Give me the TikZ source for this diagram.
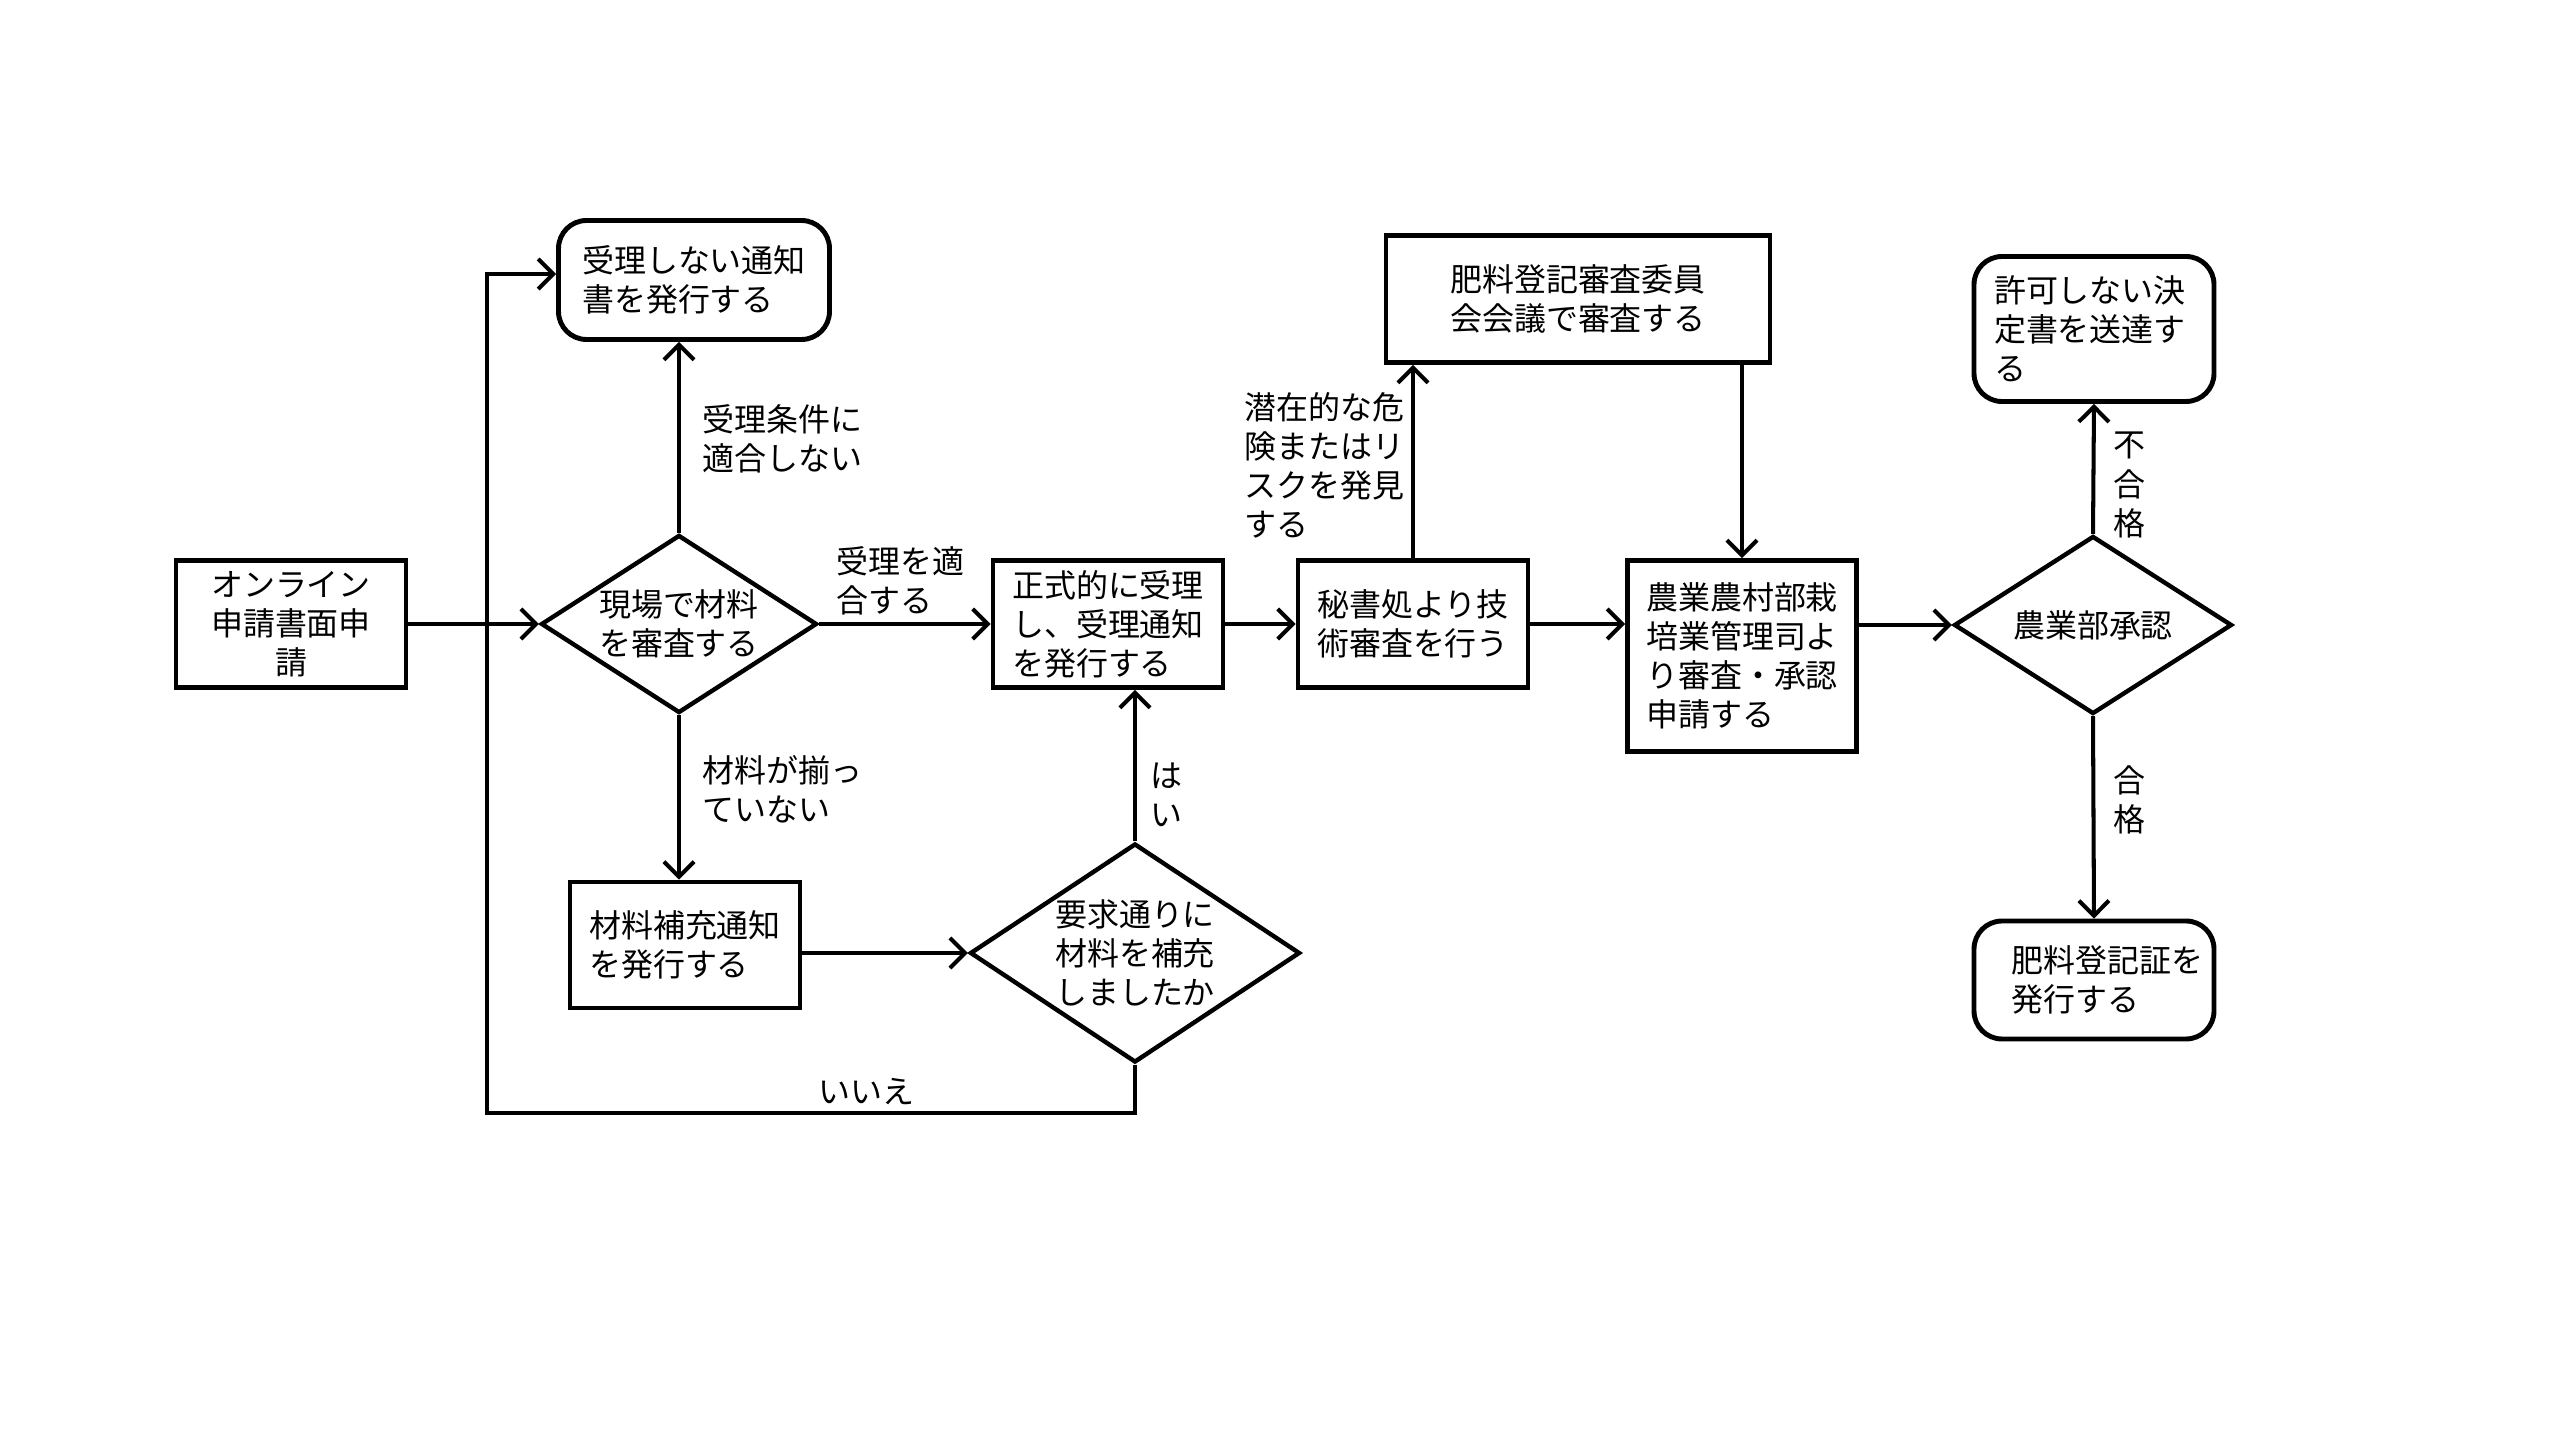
\documentclass[tikz,border=0pt]{standalone}
\usepackage{fontspec}
\newfontfamily\jpfont{Noto Sans CJK JP}
\usetikzlibrary{shapes.geometric,arrows.meta}
\tikzset{box/.style={draw, rectangle, line width=1.4pt, inner sep=0pt, align=left}}
\tikzset{roundbox/.style={box, rounded corners=0.28cm}}
\tikzset{decision/.style={draw, shape=diamond, line width=1.25pt, inner sep=0pt, align=center}}
\tikzset{flow/.style={line width=1.15pt, -{Straight Barb[length=1.5mm,width=3mm]}}}
\tikzset{lbl/.style={inner sep=0pt, align=left}}

\begin{document}
\begin{tikzpicture}
	% Default font for each node
	\tikzstyle{every node}=[font=\jpfont\fontsize{9.1}{11.1}\selectfont];
	\useasboundingbox (0,0) rectangle (25.6,14.4);

	% Left part
	\node[box, align=center, minimum width=2.30cm, minimum height=1.27cm] (apply) at (2.91,8.16) {オンライン\\申請書面申\\請};
	\node[decision, minimum width=2.76cm, minimum height=1.78cm, aspect=1.55] (check) at (6.79,8.16) {現場で材料\\を審査する};
	\node[roundbox, minimum width=2.71cm, minimum height=1.19cm] (reject) at (6.94,11.60) {受理しない通知\\書を発行する};
	\node[box, minimum width=2.30cm, minimum height=1.26cm] (supply) at (6.85,4.95) {材料補充通知\\を発行する};
	\node[decision, minimum width=3.30cm, minimum height=2.19cm, aspect=1.51] (recheck) at (11.35,4.87) {要求通りに\\材料を補充\\しましたか};
	\coordinate (loop sw) at (4.87,3.27);

	% Middle part
	\node[box, minimum width=2.30cm, minimum height=1.27cm] (accept) at (11.08,8.16) {正式的に受理\\し、受理通知\\を発行する};
	\node[box, minimum width=2.30cm, minimum height=1.27cm] (tech) at (14.13,8.16) {秘書処より技\\術審査を行う};
	\node[box, minimum width=3.84cm, minimum height=1.27cm] (committee) at (15.78,11.41) {肥料登記審査委員\\会会議で審査する};
	\node[box, minimum width=2.29cm, minimum height=1.91cm] (ministry) at (17.42,7.84) {農業農村部栽\\培業管理司よ\\り審査・承認\\申請する};

	% Right part
	\node[decision, minimum width=2.78cm, minimum height=1.78cm, aspect=1.56] (approve) at (20.93,8.15) {農業部承認};
	\node[roundbox, minimum width=2.40cm, minimum height=1.45cm, text width=2.0cm] (deny) at (20.94,11.11) {許可しない決\\定書を送達す\\る};
	\node[roundbox, minimum width=2.40cm, minimum height=1.18cm, text width=1.65cm] (cert) at (20.94,4.60) {肥料登記証を\\発行する};

	% Labels
	\node[lbl, anchor=west] (lbl nofit) at (7.02,10.01) {受理条件に\\適合しない};
	\node[lbl, anchor=south west] (lbl fit) at (8.36,8.24) {受理を適\\合する};
	\node[lbl, anchor=west] (lbl lack) at (7.02,6.51) {材料が揃っ\\ていない};
	\node[lbl, anchor=west] (lbl yes) at (11.50,6.45) {は\\い};
	\node[lbl] (lbl no) at (8.66,3.48) {いいえ};
	\node[lbl, anchor=west] (lbl risk) at (12.44,9.75) {潜在的な危\\険またはリ\\スクを発見\\する};
	\node[lbl, align=center] (lbl fail) at (21.29,9.55) {不\\合\\格};
	\node[lbl, align=center] (lbl pass) at (21.29,6.40) {合\\格};

	% Horizontals
	\draw[flow] (apply) -- (check);
	\draw[flow] (check) -- (accept);
	\draw[flow] (accept) -- (tech);
	\draw[flow] (tech) -- (tech -| ministry.west);
	\draw[flow] (ministry.east |- approve.west) -- (approve.west);
	\draw[flow] (supply.east |- recheck.west) -- (recheck.west);

	% Verticals
	\draw[flow] (check.north) -- (check.north |- reject.south);
	\draw[flow] (check.south) -- (check.south |- supply.north);
	\draw[flow] (recheck.north) -- (recheck.north |- accept.south);
	\draw[flow] (tech.north) -- (tech.north |- committee.south);
	\draw[flow] (ministry.north |- committee.south) -- (ministry.north);
	\draw[flow] (approve.north) -- (deny.south);
	\draw[flow] (approve.south) -- (cert.north);

	% Loop back
	\draw[flow] (recheck.south) |- (loop sw) |- ([yshift=0.06cm]reject.west);

\end{tikzpicture}
\end{document}
